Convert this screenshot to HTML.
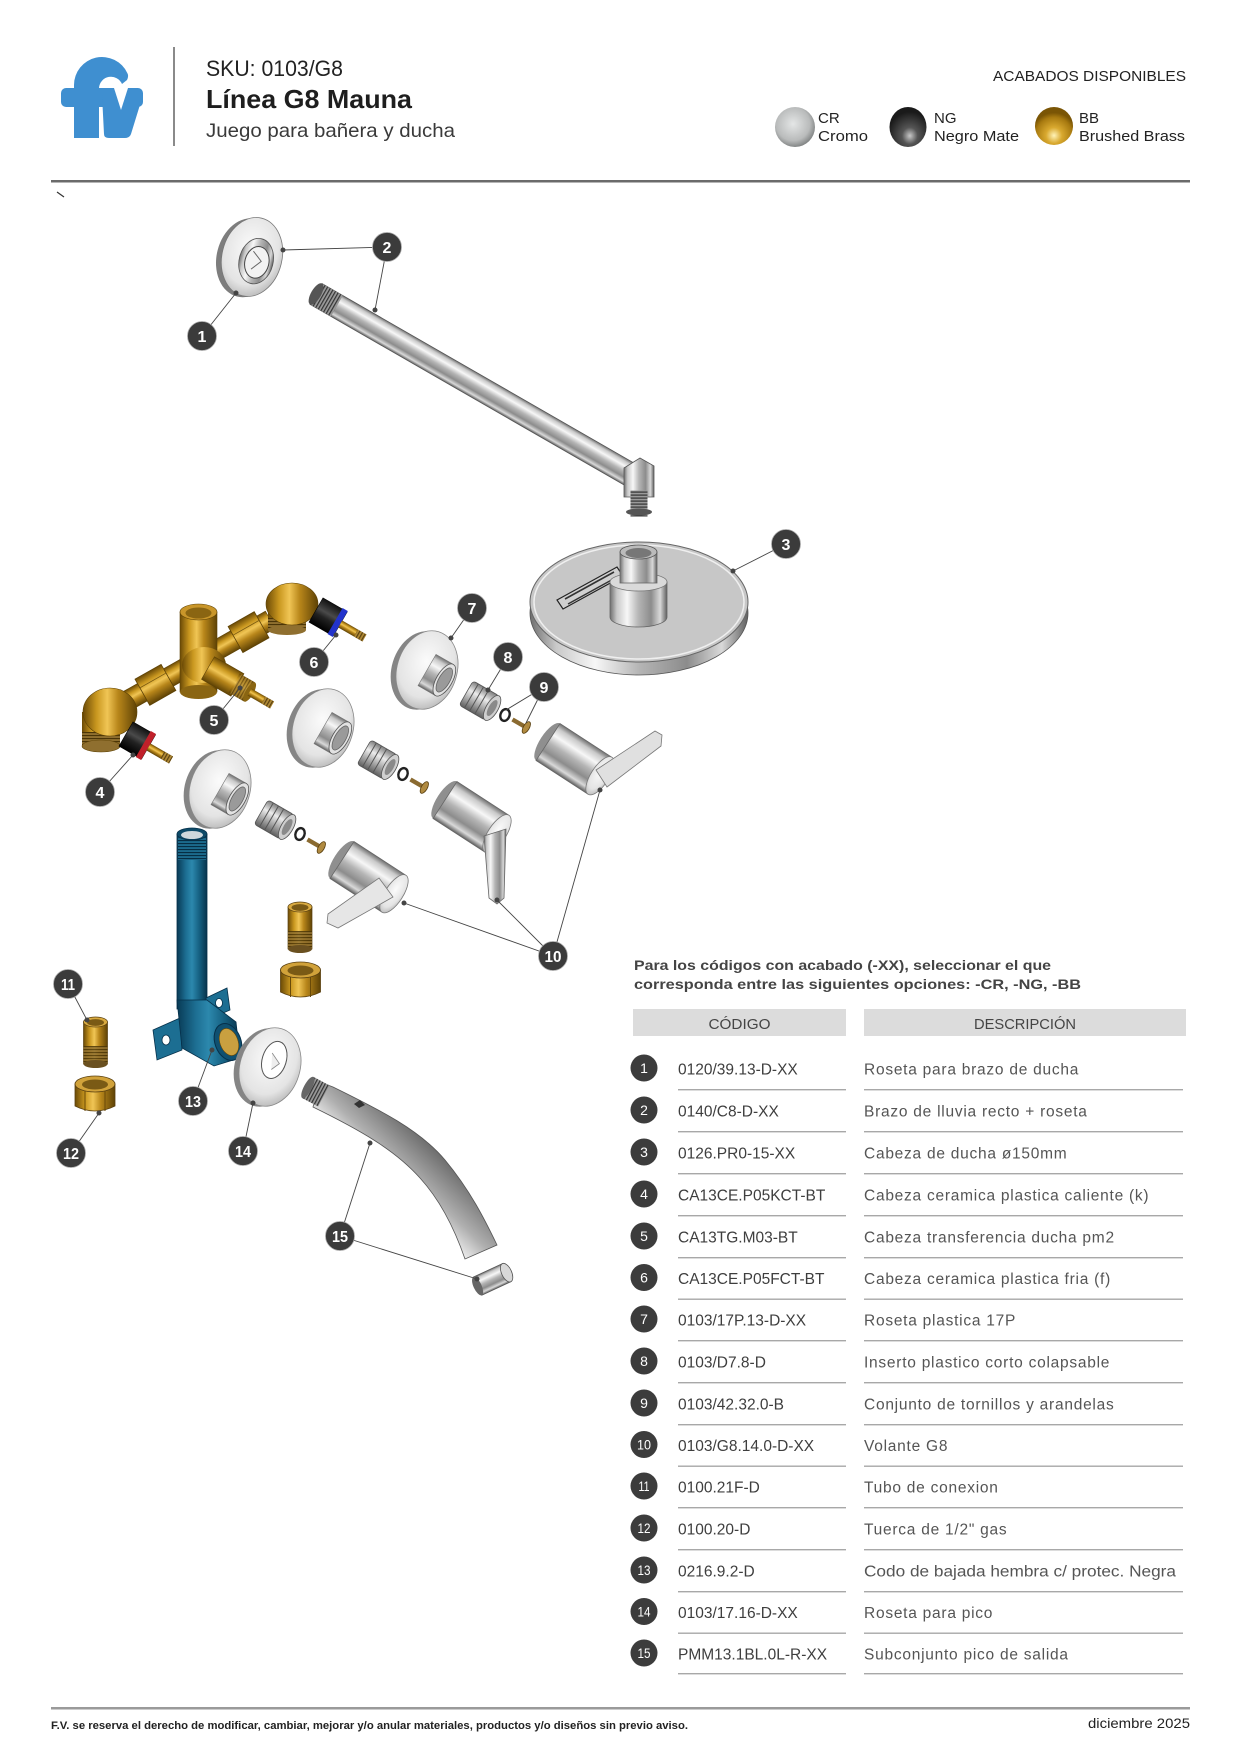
<!DOCTYPE html>
<html><head><meta charset="utf-8">
<style>
html,body{margin:0;padding:0;background:#fff;}
svg{display:block;}
text{font-family:"Liberation Sans",sans-serif;}
</style></head><body>
<svg width="1242" height="1755" viewBox="0 0 1242 1755" xmlns="http://www.w3.org/2000/svg">
<defs>
 <linearGradient id="chromeV" x1="0" y1="0" x2="0" y2="1">
  <stop offset="0" stop-color="#6f6f6f"/><stop offset=".12" stop-color="#c9c9c9"/><stop offset=".3" stop-color="#f7f7f7"/><stop offset=".5" stop-color="#b5b5b5"/><stop offset=".72" stop-color="#8c8c8c"/><stop offset=".88" stop-color="#d9d9d9"/><stop offset="1" stop-color="#5f5f5f"/>
 </linearGradient>
 <linearGradient id="chromeH" x1="0" y1="0" x2="1" y2="0">
  <stop offset="0" stop-color="#6f6f6f"/><stop offset=".12" stop-color="#c9c9c9"/><stop offset=".3" stop-color="#f7f7f7"/><stop offset=".5" stop-color="#b5b5b5"/><stop offset=".72" stop-color="#8c8c8c"/><stop offset=".88" stop-color="#d9d9d9"/><stop offset="1" stop-color="#5f5f5f"/>
 </linearGradient>
 <linearGradient id="chromeD" x1="0" y1="1" x2="1" y2="0">
  <stop offset="0" stop-color="#4a4a4a"/><stop offset=".3" stop-color="#7c7c7c"/><stop offset=".42" stop-color="#e8e8e8"/><stop offset=".5" stop-color="#b0b0b0"/><stop offset=".65" stop-color="#6a6a6a"/><stop offset="1" stop-color="#b8b8b8"/>
 </linearGradient>
 <linearGradient id="brassV" x1="0" y1="0" x2="0" y2="1">
  <stop offset="0" stop-color="#6b4a06"/><stop offset=".25" stop-color="#c9971f"/><stop offset=".45" stop-color="#f0c555"/><stop offset=".65" stop-color="#b8861a"/><stop offset="1" stop-color="#5e4205"/>
 </linearGradient>
 <linearGradient id="brassH" x1="0" y1="0" x2="1" y2="0">
  <stop offset="0" stop-color="#6b4a06"/><stop offset=".25" stop-color="#c9971f"/><stop offset=".45" stop-color="#f0c555"/><stop offset=".65" stop-color="#b8861a"/><stop offset="1" stop-color="#5e4205"/>
 </linearGradient>
 <linearGradient id="blueH" x1="0" y1="0" x2="1" y2="0">
  <stop offset="0" stop-color="#083a55"/><stop offset=".3" stop-color="#1d6f93"/><stop offset=".5" stop-color="#2c88ad"/><stop offset=".75" stop-color="#155f80"/><stop offset="1" stop-color="#07344c"/>
 </linearGradient>
 <linearGradient id="blackV" x1="0" y1="0" x2="0" y2="1">
  <stop offset="0" stop-color="#111"/><stop offset=".4" stop-color="#4a4a4a"/><stop offset=".6" stop-color="#222"/><stop offset="1" stop-color="#000"/>
 </linearGradient>
 <linearGradient id="insG" x1="0" y1="0" x2="0" y2="1">
  <stop offset="0" stop-color="#7d7d7d"/><stop offset=".35" stop-color="#ececec"/><stop offset=".7" stop-color="#a0a0a0"/><stop offset="1" stop-color="#5e5e5e"/>
 </linearGradient>
 <radialGradient id="faceR" cx=".45" cy=".4" r=".65">
  <stop offset="0" stop-color="#fbfbfb"/><stop offset=".7" stop-color="#e4e4e4"/><stop offset="1" stop-color="#b5b5b5"/>
 </radialGradient>
 <radialGradient id="swCR" cx=".45" cy=".42" r=".6">
  <stop offset="0" stop-color="#e4e6e6"/><stop offset=".7" stop-color="#b9bbbb"/><stop offset="1" stop-color="#7d8080"/>
 </radialGradient>
 <radialGradient id="swNG" cx=".55" cy=".72" r=".6">
  <stop offset="0" stop-color="#c8c8c8"/><stop offset=".35" stop-color="#555"/><stop offset="1" stop-color="#1a1a1a"/>
 </radialGradient>
 <radialGradient id="swBB" cx=".5" cy=".75" r=".6">
  <stop offset="0" stop-color="#fff3b8"/><stop offset=".35" stop-color="#d9a92f"/><stop offset=".8" stop-color="#a87a10"/><stop offset="1" stop-color="#7a5505"/>
 </radialGradient>
 <pattern id="thr" width="3" height="4" patternUnits="userSpaceOnUse"><rect width="3" height="4" fill="#9a9a9a"/><rect width="1.2" height="4" fill="#333"/></pattern>
 <pattern id="thrY" width="3" height="4" patternUnits="userSpaceOnUse"><rect width="3" height="4" fill="#b08a35"/><rect width="1.2" height="4" fill="#5a4010"/></pattern>
 <pattern id="thrH" width="4" height="3" patternUnits="userSpaceOnUse"><rect width="4" height="3" fill="#8f6f2f"/><rect width="4" height="1.1" fill="#4a3508"/></pattern>
 <pattern id="thrB" width="4" height="3" patternUnits="userSpaceOnUse"><rect width="4" height="3" fill="#1b6a8c"/><rect width="4" height="1.1" fill="#062e44"/></pattern>

 <g id="ros">
  <ellipse cx="-5" cy="2" rx="30" ry="40" fill="#858585" transform="rotate(17)"/>
  <ellipse rx="30" ry="40" fill="url(#faceR)" stroke="#888" stroke-width="0.8" transform="rotate(17)"/>
  <g transform="rotate(30)">
   <rect x="0" y="-18" width="20" height="36" fill="url(#chromeV)" stroke="#777" stroke-width=".6"/>
   <ellipse cx="20" cy="0" rx="8" ry="18" fill="#e2e2e2" stroke="#555" stroke-width=".8"/>
   <ellipse cx="20" cy="0" rx="5.5" ry="13.5" fill="#9a9a9a" stroke="#666" stroke-width=".8"/>
  </g>
 </g>
 <g id="ins">
  <g transform="rotate(30)">
   <rect x="-16" y="-14" width="30" height="28" rx="3" fill="url(#insG)" stroke="#555" stroke-width=".8"/>
   <line x1="-10" y1="-14" x2="-10" y2="14" stroke="#555" stroke-width="1"/>
   <line x1="-4" y1="-14" x2="-4" y2="14" stroke="#555" stroke-width="1"/>
   <line x1="2" y1="-14" x2="2" y2="14" stroke="#555" stroke-width="1"/>
   <ellipse cx="14" cy="0" rx="6" ry="14" fill="#cfcfcf" stroke="#555" stroke-width=".8"/>
   <ellipse cx="14" cy="0" rx="3.5" ry="9" fill="#8a8a8a"/>
  </g>
 </g>
 <g id="wash">
  <ellipse rx="4.5" ry="6" fill="none" stroke="#222" stroke-width="2.4" transform="rotate(20)"/>
 </g>
 <g id="scr">
  <g transform="rotate(30)">
   <rect x="-11" y="-2.2" width="16" height="4.4" fill="#8a6a30"/>
   <ellipse cx="5" cy="0" rx="3" ry="6.5" fill="#b08a40" stroke="#5a4010" stroke-width=".8"/>
  </g>
 </g>
 <g id="hcyl">
  <g transform="rotate(33)">
   <ellipse cx="0" cy="0" rx="8" ry="22" fill="#8f8f8f"/>
   <rect x="0" y="-22" width="62" height="44" fill="url(#chromeV)" stroke="#666" stroke-width=".8"/>
   <ellipse cx="62" cy="0" rx="9" ry="22" fill="url(#faceR)" stroke="#777" stroke-width=".8"/>
  </g>
 </g>
 <g id="conn">
  <rect x="-12" y="0" width="24" height="42" fill="url(#brassH)" stroke="#5a4010" stroke-width=".7"/>
  <rect x="-12" y="24" width="24" height="18" fill="url(#thrH)" opacity=".85"/>
  <ellipse cx="0" cy="42" rx="12" ry="4" fill="#6a5020"/>
  <ellipse cx="0" cy="0" rx="12" ry="5" fill="#d9aa40" stroke="#5a4010" stroke-width=".7"/>
  <ellipse cx="0" cy="0.5" rx="8.5" ry="3.4" fill="#7a5a15"/>
 </g>
 <g id="nut">
  <path d="M-20 0 V22 Q0 32 20 22 V0 Z" fill="url(#brassH)" stroke="#5a4010" stroke-width=".8"/>
  <line x1="-10" y1="3" x2="-10" y2="27" stroke="#6a4a08" stroke-width="1"/>
  <line x1="10" y1="3" x2="10" y2="27" stroke="#6a4a08" stroke-width="1"/>
  <ellipse cx="0" cy="0" rx="20" ry="8" fill="#d1a23a" stroke="#5a4010" stroke-width=".8"/>
  <ellipse cx="0" cy="0.5" rx="13" ry="5" fill="#7a5a15"/>
 </g>
</defs>

<rect width="1242" height="1755" fill="#fff"/>

<!-- ===== HEADER ===== -->
<g fill="#3f8fd0">
 <path d="M74 138 V85 A28 28 0 0 1 127.4 73.2 Q129 76 127 80 L122 84 A12 12 0 0 0 99 88 V138 Z"/>
 <rect x="61" y="88" width="82" height="19" rx="5"/>
 <path d="M102 95 H143 L131 134 Q129.5 138 125 138 H109 Q104 138 104 134 Z"/>
 <path d="M114 88 L121 110 L128 88 Z" fill="#fff"/>
</g>
<rect x="173" y="47" width="2" height="99" fill="#8a8a8a"/>
<text x="206" y="76" font-size="22" fill="#222" textLength="137" lengthAdjust="spacingAndGlyphs">SKU: 0103/G8</text>
<text x="206" y="108" font-size="26" font-weight="700" fill="#1e1e1e" textLength="206" lengthAdjust="spacingAndGlyphs">Línea G8 Mauna</text>
<text x="206" y="137" font-size="19.5" fill="#3a3a3a" textLength="249" lengthAdjust="spacingAndGlyphs">Juego para bañera y ducha</text>

<text x="993" y="81" font-size="15" fill="#222" textLength="193" lengthAdjust="spacingAndGlyphs">ACABADOS DISPONIBLES</text>
<ellipse cx="795" cy="127" rx="20" ry="20" fill="url(#swCR)"/>
<text x="818" y="123" font-size="15" fill="#222">CR</text>
<text x="818" y="141" font-size="15" fill="#222" textLength="50" lengthAdjust="spacingAndGlyphs">Cromo</text>
<ellipse cx="908" cy="127" rx="18.5" ry="20" fill="url(#swNG)"/>
<text x="934" y="123" font-size="15" fill="#222">NG</text>
<text x="934" y="141" font-size="15" fill="#222" textLength="85" lengthAdjust="spacingAndGlyphs">Negro Mate</text>
<ellipse cx="1054" cy="126" rx="19" ry="19" fill="url(#swBB)"/>
<text x="1079" y="123" font-size="15" fill="#222">BB</text>
<text x="1079" y="141" font-size="15" fill="#222" textLength="106" lengthAdjust="spacingAndGlyphs">Brushed Brass</text>

<rect x="51" y="180" width="1139" height="2.5" fill="#6b6b6b"/>
<line x1="57" y1="192" x2="64" y2="197" stroke="#333" stroke-width="1.2"/>

<!-- ===== DIAGRAM ===== -->
<!-- shower arm -->
<g transform="translate(316,294) rotate(29.9)">
 <rect x="0" y="-12" width="376" height="24" fill="url(#chromeV)" stroke="#555" stroke-width=".8"/>
 <rect x="0" y="-12" width="24" height="24" fill="url(#thr)"/>
 <ellipse cx="0" cy="0" rx="5" ry="12" fill="#555"/>
</g>
<path d="M624 468 L640 458 L654 466 L654 497 L624 497 Z" fill="url(#chromeH)" stroke="#555" stroke-width=".8"/>
<rect x="626" y="495" width="26" height="17" fill="url(#thr)" transform="rotate(90 639 503.5)"/>
<ellipse cx="639" cy="512" rx="13" ry="3.5" fill="#555"/>

<!-- rosette 1 -->
<g transform="translate(252,257) rotate(14)">
 <ellipse cx="-5" cy="2" rx="30" ry="40" fill="#7d7d7d"/>
 <ellipse cx="0" cy="0" rx="30" ry="40" fill="url(#faceR)" stroke="#777" stroke-width="0.8"/>
 <ellipse cx="5" cy="3" rx="17" ry="23" fill="url(#chromeH)" stroke="#555" stroke-width="0.8"/>
 <ellipse cx="6" cy="4" rx="12" ry="16" fill="#f2f2f2" stroke="#444" stroke-width="1"/>
 <path d="M0 -6 L10 2 L2 12" fill="none" stroke="#666" stroke-width="1"/>
</g>

<!-- shower head -->
<ellipse cx="639" cy="613" rx="109" ry="62" fill="url(#chromeH)" stroke="#555" stroke-width=".8"/>
<ellipse cx="639" cy="602" rx="109" ry="60" fill="#c7c7c7" stroke="#666" stroke-width="1"/>
<ellipse cx="639" cy="602" rx="105" ry="57" fill="none" stroke="#efefef" stroke-width="1.5"/>
<polygon points="557,600 617,567 623,576 563,609" fill="#d0d0d0" stroke="#222" stroke-width="1.2"/>
<line x1="565" y1="599" x2="614" y2="572" stroke="#333" stroke-width="1.6"/>
<line x1="568" y1="604" x2="617" y2="577" stroke="#333" stroke-width="1.4"/>
<path d="M610 582 V617 A28.5 10 0 0 0 667 617 V582 Z" fill="url(#chromeH)" stroke="#666" stroke-width=".8"/>
<ellipse cx="638.5" cy="582" rx="28.5" ry="9" fill="#dadada" stroke="#777" stroke-width=".8"/>
<rect x="620" y="552" width="37" height="31" fill="url(#chromeH)" stroke="#666" stroke-width=".8"/>
<ellipse cx="638.5" cy="552" rx="18.5" ry="7" fill="#bbb" stroke="#555" stroke-width=".8"/>
<ellipse cx="638.5" cy="553" rx="13" ry="5" fill="#777"/>

<!-- brass valve body -->
<g transform="translate(118,706) rotate(-29.5)">
 <rect x="0" y="-10" width="175" height="20" fill="url(#brassV)" stroke="#5e4205" stroke-width=".6"/>
 <rect x="28" y="-15" width="30" height="30" fill="url(#brassV)" stroke="#5e4205" stroke-width=".8"/>
 <line x1="28" y1="-5" x2="58" y2="-5" stroke="#7a5a10" stroke-width=".8"/>
 <rect x="135" y="-15" width="30" height="30" fill="url(#brassV)" stroke="#5e4205" stroke-width=".8"/>
 <line x1="135" y1="-5" x2="165" y2="-5" stroke="#7a5a10" stroke-width=".8"/>
</g>
<!-- left elbow -->
<rect x="82" y="712" width="38" height="32" fill="url(#brassH)"/>
<rect x="82" y="732" width="38" height="14" fill="url(#thrH)"/>
<ellipse cx="101" cy="746" rx="19" ry="6" fill="#8f6f2f" stroke="#5e4205" stroke-width=".6"/>
<ellipse cx="110" cy="712" rx="27" ry="24" fill="url(#brassH)" stroke="#5e4205" stroke-width=".6"/>
<!-- right elbow -->
<rect x="268" y="604" width="38" height="25" fill="url(#brassH)"/>
<rect x="268" y="618" width="38" height="12" fill="url(#thrH)"/>
<ellipse cx="287" cy="630" rx="19" ry="5" fill="#8f6f2f"/>
<ellipse cx="292" cy="604" rx="26" ry="21" fill="url(#brassH)" stroke="#5e4205" stroke-width=".6"/>
<!-- vertical body -->
<rect x="180" y="612" width="37" height="80" fill="url(#brassH)" stroke="#5e4205" stroke-width=".6"/>
<ellipse cx="198.5" cy="692" rx="18.5" ry="7" fill="#8a6512"/>
<ellipse cx="198.5" cy="612" rx="18.5" ry="8" fill="#c9962a" stroke="#5e4205" stroke-width=".6"/>
<ellipse cx="198.5" cy="613" rx="13" ry="5.5" fill="#8a6512"/>
<ellipse cx="204" cy="665" rx="22" ry="18" fill="url(#brassH)"/>
<!-- branch + cartridge 5 -->
<g transform="translate(208,668) rotate(30)">
 <rect x="0" y="-13" width="34" height="26" fill="url(#brassV)" stroke="#5e4205" stroke-width=".6"/>
 <rect x="30" y="-11" width="18" height="22" fill="url(#brassV)"/>
 <rect x="32" y="-11" width="14" height="22" fill="url(#thrY)" opacity=".7"/>
 <ellipse cx="48" cy="0" rx="4" ry="11" fill="#8a6512"/>
 <rect x="48" y="-4" width="26" height="8" fill="url(#brassV)"/>
 <rect x="64" y="-4" width="10" height="8" fill="url(#thrY)"/>
</g>
<!-- cartridge 4 -->
<g transform="translate(126,734) rotate(30)">
 <rect x="0" y="-14" width="26" height="28" fill="url(#blackV)" stroke="#000" stroke-width=".6"/>
 <rect x="20" y="-15" width="6" height="30" fill="#c0202a"/>
 <rect x="26" y="-4" width="26" height="8" fill="url(#brassV)"/>
 <rect x="42" y="-4" width="10" height="8" fill="url(#thrY)"/>
</g>
<!-- cartridge 6 -->
<g transform="translate(316,610) rotate(30)">
 <rect x="0" y="-14" width="28" height="28" fill="url(#blackV)" stroke="#000" stroke-width=".6"/>
 <rect x="22" y="-15" width="6" height="30" fill="#2233cc"/>
 <rect x="28" y="-4" width="28" height="8" fill="url(#brassV)"/>
 <rect x="46" y="-4" width="10" height="8" fill="url(#thrY)"/>
</g>

<!-- rosettes with sleeve -->
<use href="#ros" transform="translate(427,670)"/>
<use href="#ros" transform="translate(323,728)"/>
<use href="#ros" transform="translate(220,789)"/>

<!-- inserts / washers / screws -->
<use href="#ins" transform="translate(480,701)"/>
<use href="#ins" transform="translate(378,760)"/>
<use href="#ins" transform="translate(275,820)"/>
<use href="#wash" transform="translate(505,715)"/>
<use href="#wash" transform="translate(403,774)"/>
<use href="#wash" transform="translate(300,834)"/>
<use href="#scr" transform="translate(522,725)"/>
<use href="#scr" transform="translate(420,785)"/>
<use href="#scr" transform="translate(317,845)"/>

<!-- handles -->
<use href="#hcyl" transform="translate(548,742)"/>
<polygon points="596,770 655,731 662,735 661,746 607,787" fill="#e0e0e0" stroke="#777" stroke-width=".8"/>
<use href="#hcyl" transform="translate(445,800)"/>
<polygon points="484,836 506,829 504,898 497,904 489,898" fill="url(#chromeH)" stroke="#666" stroke-width=".8"/>
<use href="#hcyl" transform="translate(342,860)"/>
<polygon points="379,878 393,897 338,928 327,923 328,914" fill="#e6e6e6" stroke="#777" stroke-width=".8"/>

<!-- blue pipe assembly -->
<rect x="177" y="834" width="30" height="175" fill="url(#blueH)" stroke="#06304a" stroke-width=".8"/>
<rect x="178" y="838" width="28" height="22" fill="url(#thrB)"/>
<polygon points="206,998 227,988 230,1010 207,1020" fill="#1c6e92" stroke="#06304a" stroke-width=".8"/>
<polygon points="153,1030 180,1018 182,1050 157,1060" fill="#1c6e92" stroke="#06304a" stroke-width=".8"/>
<ellipse cx="166" cy="1040" rx="4" ry="5" fill="#fff" stroke="#06304a" stroke-width=".8"/>
<ellipse cx="219" cy="1003" rx="3.5" ry="4.5" fill="#fff" stroke="#06304a" stroke-width=".8"/>
<path d="M177 1000 L207 1000 L236 1022 L240 1058 L214 1066 L182 1048 Z" fill="url(#blueH)" stroke="#06304a" stroke-width=".8"/>
<ellipse cx="228" cy="1042" rx="13" ry="19" fill="#0f5070" stroke="#06304a" transform="rotate(-20 228 1042)"/>
<ellipse cx="229" cy="1042" rx="9" ry="14" fill="#c9a040" stroke="#6a4a08" stroke-width=".6" transform="rotate(-20 229 1042)"/>
<ellipse cx="192" cy="834" rx="15" ry="6" fill="#0d4a68" stroke="#06304a" stroke-width=".8"/>
<ellipse cx="192" cy="835" rx="11" ry="4" fill="#cfd8dc"/>

<!-- connectors & nuts -->
<use href="#conn" transform="translate(300,907)"/>
<use href="#nut" transform="translate(300.5,970)"/>
<use href="#conn" transform="translate(95.5,1022)"/>
<use href="#nut" transform="translate(95,1084)"/>

<!-- rosette 14 -->
<g transform="translate(270,1067) rotate(17)">
 <ellipse cx="-5" cy="2" rx="30" ry="40" fill="#858585"/>
 <ellipse cx="0" cy="0" rx="30" ry="40" fill="url(#faceR)" stroke="#888" stroke-width=".8"/>
 <ellipse cx="2" cy="-8" rx="12" ry="19" fill="#fff" stroke="#555" stroke-width="1"/>
 <path d="M-2 -14 L8 -6 L2 2" fill="#eee" stroke="#888" stroke-width=".8"/>
</g>

<!-- spout 15 -->
<path d="M320 1082 L333 1087 C380 1110 420 1130 445 1160 C470 1190 485 1220 497 1245 L465 1259 C455 1230 440 1200 420 1178 C395 1150 360 1130 313 1107 Z" fill="url(#chromeD)" stroke="#555" stroke-width=".8"/>
<g transform="translate(322,1095) rotate(28)">
 <rect x="-16" y="-12" width="18" height="24" fill="url(#thr)"/>
 <ellipse cx="-16" cy="0" rx="4" ry="12" fill="#666"/>
</g>
<path d="M354 1104 l6 -4 l5 5 l-6 3 z" fill="#333"/>
<g transform="translate(493,1279) rotate(-25)">
 <rect x="-17" y="-10" width="32" height="20" fill="url(#chromeV)" stroke="#555" stroke-width=".8"/>
 <ellipse cx="15" cy="0" rx="5" ry="10" fill="#d8d8d8" stroke="#555" stroke-width=".8"/>
 <ellipse cx="-17" cy="0" rx="4" ry="10" fill="#666"/>
</g>

<!-- leaders -->
<g stroke="#444" stroke-width="0.9" fill="none">
 <line x1="202" y1="336" x2="236" y2="293"/>
 <line x1="387" y1="247" x2="283" y2="250"/>
 <line x1="387" y1="247" x2="375" y2="310"/>
 <line x1="786" y1="544" x2="733" y2="571"/>
 <line x1="100" y1="792" x2="133" y2="755"/>
 <line x1="214" y1="720" x2="240" y2="688"/>
 <line x1="314" y1="662" x2="336" y2="635"/>
 <line x1="472" y1="608" x2="451" y2="638"/>
 <line x1="508" y1="657" x2="488" y2="690"/>
 <line x1="544" y1="687" x2="506" y2="710"/>
 <line x1="544" y1="687" x2="526" y2="723"/>
 <line x1="553" y1="956" x2="600" y2="790"/>
 <line x1="553" y1="956" x2="497" y2="900"/>
 <line x1="553" y1="956" x2="404" y2="903"/>
 <line x1="68" y1="984" x2="87" y2="1020"/>
 <line x1="71" y1="1153" x2="99" y2="1113"/>
 <line x1="193" y1="1101" x2="212" y2="1050"/>
 <line x1="243" y1="1151" x2="253" y2="1103"/>
 <line x1="340" y1="1236" x2="370" y2="1143"/>
 <line x1="340" y1="1236" x2="477" y2="1279"/>
</g>
<g fill="#444">
 <circle cx="236" cy="293" r="2.5"/><circle cx="283" cy="250" r="2.5"/><circle cx="375" cy="310" r="2.5"/>
 <circle cx="733" cy="571" r="2.5"/><circle cx="133" cy="755" r="2.5"/><circle cx="240" cy="688" r="2.5"/>
 <circle cx="336" cy="635" r="2.5"/><circle cx="451" cy="638" r="2.5"/><circle cx="488" cy="690" r="2.5"/>
 <circle cx="600" cy="790" r="2.5"/><circle cx="497" cy="900" r="2.5"/><circle cx="404" cy="903" r="2.5"/>
 <circle cx="87" cy="1020" r="2.5"/><circle cx="99" cy="1113" r="2.5"/><circle cx="212" cy="1050" r="2.5"/>
 <circle cx="253" cy="1103" r="2.5"/><circle cx="370" cy="1143" r="2.5"/><circle cx="477" cy="1279" r="2.5"/>
</g>

<!-- callouts -->
<g fill="#3b3b3b" stroke="#aaa" stroke-width="0.8">
 <circle cx="202" cy="336" r="14.5"/><circle cx="387" cy="247" r="14.5"/><circle cx="786" cy="544" r="14.5"/>
 <circle cx="100" cy="792" r="14.5"/><circle cx="214" cy="720" r="14.5"/><circle cx="314" cy="662" r="14.5"/>
 <circle cx="472" cy="608" r="14.5"/><circle cx="508" cy="657" r="14.5"/><circle cx="544" cy="687" r="14.5"/>
 <circle cx="553" cy="956" r="14.5"/><circle cx="68" cy="984" r="14.5"/><circle cx="71" cy="1153" r="14.5"/>
 <circle cx="193" cy="1101" r="14.5"/><circle cx="243" cy="1151" r="14.5"/><circle cx="340" cy="1236" r="14.5"/>
</g>
<g fill="#fff" font-size="16" font-weight="700" text-anchor="middle">
 <text x="202" y="342">1</text><text x="387" y="253">2</text><text x="786" y="550">3</text>
 <text x="100" y="798">4</text><text x="214" y="726">5</text><text x="314" y="668">6</text>
 <text x="472" y="614">7</text><text x="508" y="663">8</text><text x="544" y="693">9</text>
 <text x="553" y="962" textLength="17" lengthAdjust="spacingAndGlyphs">10</text>
 <text x="68" y="990" textLength="14" lengthAdjust="spacingAndGlyphs">11</text>
 <text x="71" y="1159" textLength="16" lengthAdjust="spacingAndGlyphs">12</text>
 <text x="193" y="1107" textLength="16" lengthAdjust="spacingAndGlyphs">13</text>
 <text x="243" y="1157" textLength="16" lengthAdjust="spacingAndGlyphs">14</text>
 <text x="340" y="1242" textLength="16" lengthAdjust="spacingAndGlyphs">15</text>
</g>

<!-- ===== TABLE ===== -->
<text x="634" y="970" font-size="14" font-weight="700" fill="#444" textLength="417" lengthAdjust="spacingAndGlyphs">Para los códigos con acabado (-XX), seleccionar el que</text>
<text x="634" y="989" font-size="14" font-weight="700" fill="#444" textLength="447" lengthAdjust="spacingAndGlyphs">corresponda entre las siguientes opciones: -CR, -NG, -BB</text>

<rect x="633" y="1009" width="213" height="27" fill="#dcdcdc"/>
<rect x="864" y="1009" width="322" height="27" fill="#dcdcdc"/>
<text x="739.5" y="1029" font-size="15" fill="#444" text-anchor="middle" textLength="62" lengthAdjust="spacingAndGlyphs">CÓDIGO</text>
<text x="1025" y="1029" font-size="15" fill="#444" text-anchor="middle" textLength="102" lengthAdjust="spacingAndGlyphs">DESCRIPCIÓN</text>

<g>
 <g fill="#3c3c3c">
  <circle cx="644" cy="1068" r="13.5"/><circle cx="644" cy="1110" r="13.5"/><circle cx="644" cy="1152" r="13.5"/>
  <circle cx="644" cy="1194" r="13.5"/><circle cx="644" cy="1236" r="13.5"/><circle cx="644" cy="1277.5" r="13.5"/>
  <circle cx="644" cy="1319" r="13.5"/><circle cx="644" cy="1361" r="13.5"/><circle cx="644" cy="1403" r="13.5"/>
  <circle cx="644" cy="1444.5" r="13.5"/><circle cx="644" cy="1486" r="13.5"/><circle cx="644" cy="1528" r="13.5"/>
  <circle cx="644" cy="1570" r="13.5"/><circle cx="644" cy="1611.5" r="13.5"/><circle cx="644" cy="1653" r="13.5"/>
 </g>
 <g fill="#fff" font-size="14" text-anchor="middle">
  <text x="644" y="1073">1</text><text x="644" y="1115">2</text><text x="644" y="1157">3</text>
  <text x="644" y="1199">4</text><text x="644" y="1241">5</text><text x="644" y="1282.5">6</text>
  <text x="644" y="1324">7</text><text x="644" y="1366">8</text><text x="644" y="1408">9</text>
  <text x="644" y="1449.5" textLength="14" lengthAdjust="spacingAndGlyphs">10</text>
  <text x="644" y="1491" textLength="11" lengthAdjust="spacingAndGlyphs">11</text>
  <text x="644" y="1533" textLength="13" lengthAdjust="spacingAndGlyphs">12</text>
  <text x="644" y="1575" textLength="13" lengthAdjust="spacingAndGlyphs">13</text>
  <text x="644" y="1616.5" textLength="13" lengthAdjust="spacingAndGlyphs">14</text>
  <text x="644" y="1658" textLength="13" lengthAdjust="spacingAndGlyphs">15</text>
 </g>
 <g fill="#3e3e3e" font-size="15.5">
  <text x="678" y="1074.7">0120/39.13-D-XX</text>
  <text x="678" y="1116.7">0140/C8-D-XX</text>
  <text x="678" y="1158.7">0126.PR0-15-XX</text>
  <text x="678" y="1200.7">CA13CE.P05KCT-BT</text>
  <text x="678" y="1242.7">CA13TG.M03-BT</text>
  <text x="678" y="1284.2">CA13CE.P05FCT-BT</text>
  <text x="678" y="1325.7">0103/17P.13-D-XX</text>
  <text x="678" y="1367.7">0103/D7.8-D</text>
  <text x="678" y="1409.7">0103/42.32.0-B</text>
  <text x="678" y="1451.2">0103/G8.14.0-D-XX</text>
  <text x="678" y="1492.7">0100.21F-D</text>
  <text x="678" y="1534.7">0100.20-D</text>
  <text x="678" y="1576.7">0216.9.2-D</text>
  <text x="678" y="1618.2">0103/17.16-D-XX</text>
  <text x="678" y="1659.7">PMM13.1BL.0L-R-XX</text>
 </g>
 <g fill="#555" font-size="15.5" letter-spacing="0.75">
  <text x="864" y="1074.7">Roseta para brazo de ducha</text>
  <text x="864" y="1116.7">Brazo de lluvia recto + roseta</text>
  <text x="864" y="1158.7">Cabeza de ducha ø150mm</text>
  <text x="864" y="1200.7">Cabeza ceramica plastica caliente (k)</text>
  <text x="864" y="1242.7">Cabeza transferencia ducha pm2</text>
  <text x="864" y="1284.2">Cabeza ceramica plastica fria (f)</text>
  <text x="864" y="1325.7">Roseta plastica 17P</text>
  <text x="864" y="1367.7">Inserto plastico corto colapsable</text>
  <text x="864" y="1409.7">Conjunto de tornillos y arandelas</text>
  <text x="864" y="1451.2">Volante G8</text>
  <text x="864" y="1492.7">Tubo de conexion</text>
  <text x="864" y="1534.7">Tuerca de 1/2" gas</text>
  <text x="864" y="1576.7" letter-spacing="0" textLength="312" lengthAdjust="spacingAndGlyphs">Codo de bajada hembra c/ protec. Negra</text>
  <text x="864" y="1618.2">Roseta para pico</text>
  <text x="864" y="1659.7">Subconjunto pico de salida</text>
 </g>
 <g fill="#a8a8a8">
  <rect x="678" y="1089" width="168" height="1.4"/><rect x="864" y="1089" width="319" height="1.4"/>
  <rect x="678" y="1131" width="168" height="1.4"/><rect x="864" y="1131" width="319" height="1.4"/>
  <rect x="678" y="1173" width="168" height="1.4"/><rect x="864" y="1173" width="319" height="1.4"/>
  <rect x="678" y="1215" width="168" height="1.4"/><rect x="864" y="1215" width="319" height="1.4"/>
  <rect x="678" y="1257" width="168" height="1.4"/><rect x="864" y="1257" width="319" height="1.4"/>
  <rect x="678" y="1298.5" width="168" height="1.4"/><rect x="864" y="1298.5" width="319" height="1.4"/>
  <rect x="678" y="1340" width="168" height="1.4"/><rect x="864" y="1340" width="319" height="1.4"/>
  <rect x="678" y="1382" width="168" height="1.4"/><rect x="864" y="1382" width="319" height="1.4"/>
  <rect x="678" y="1424" width="168" height="1.4"/><rect x="864" y="1424" width="319" height="1.4"/>
  <rect x="678" y="1465.5" width="168" height="1.4"/><rect x="864" y="1465.5" width="319" height="1.4"/>
  <rect x="678" y="1507" width="168" height="1.4"/><rect x="864" y="1507" width="319" height="1.4"/>
  <rect x="678" y="1549" width="168" height="1.4"/><rect x="864" y="1549" width="319" height="1.4"/>
  <rect x="678" y="1591" width="168" height="1.4"/><rect x="864" y="1591" width="319" height="1.4"/>
  <rect x="678" y="1632.5" width="168" height="1.4"/><rect x="864" y="1632.5" width="319" height="1.4"/>
  <rect x="678" y="1673" width="168" height="1.4"/><rect x="864" y="1673" width="319" height="1.4"/>
 </g>
</g>

<!-- ===== FOOTER ===== -->
<rect x="51" y="1707" width="1139" height="2.5" fill="#9a9a9a"/>
<text x="51" y="1729" font-size="11" font-weight="700" fill="#222" textLength="637" lengthAdjust="spacingAndGlyphs">F.V. se reserva el derecho de modificar, cambiar, mejorar y/o anular materiales, productos y/o diseños sin previo aviso.</text>
<text x="1190" y="1728" font-size="14" fill="#222" text-anchor="end" textLength="102" lengthAdjust="spacingAndGlyphs">diciembre 2025</text>
</svg>
</body></html>
